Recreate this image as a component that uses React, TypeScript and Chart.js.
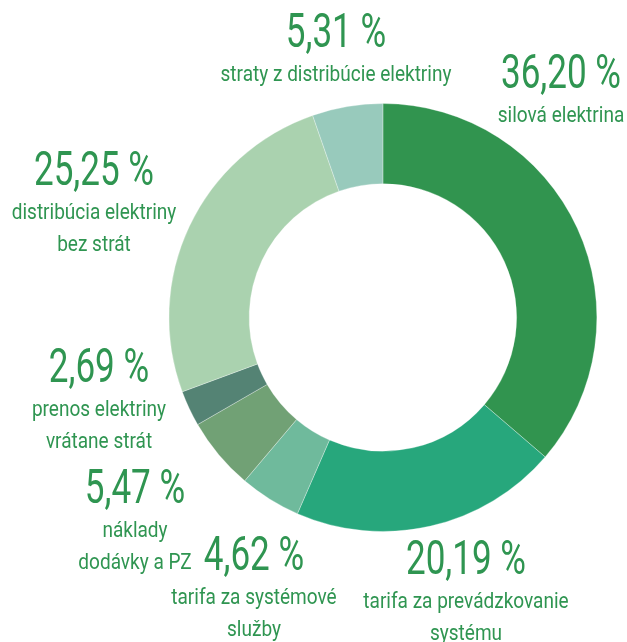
import React, { useEffect, useRef } from "react";
import { Chart, registerables } from "chart.js";

Chart.register(...registerables);

const categories: string[][] = [
  ["silová elektrina"],
  ["tarifa za prevádzkovanie", "systému"],
  ["tarifa za systémové", "služby"],
  ["náklady", "dodávky a PZ"],
  ["prenos elektriny", "vrátane strát"],
  ["distribúcia elektriny", "bez strát"],
  ["straty z distribúcie elektriny"],
];
const values: number[] = [36.2, 20.19, 4.62, 5.47, 2.69, 25.25, 5.31];
const colors: string[] = ["#31944f", "#27a77c", "#6fba9c", "#71a175", "#548374", "#aad2af", "#98cabc"];
// label anchor: center x, baseline of the percentage line
const labelX: number[] = [561, 466, 254, 135, 99, 94, 336];
const labelY: number[] = [88, 574, 570, 503, 382, 185, 47];

const TEXT_COLOR = "#2f9551";
const BIG_SIZE = 48;
const BIG_SCALE = 0.73;
const SMALL_SIZE = 22;
const SMALL_SCALE = 0.865;
const FIRST_LINE_GAP = 34;
const LINE_GAP = 32;

const fmt = (v: number) => v.toFixed(2).replace(".", ",") + " %";

const labelPlugin = {
  id: "sliceLabels",
  afterDraw(chart: any) {
    const ctx = chart.ctx as CanvasRenderingContext2D;
    ctx.save();
    ctx.fillStyle = TEXT_COLOR;
    ctx.textAlign = "center";
    ctx.textBaseline = "alphabetic";
    const draw = (t: string, x: number, y: number, size: number, sx: number, weight: string) => {
      ctx.save();
      ctx.font = `${weight} ${size}px Roboto, "DejaVu Sans", sans-serif`;
      ctx.translate(x, y);
      ctx.scale(sx, 1);
      ctx.fillText(t, 0, 0);
      ctx.restore();
    };
    values.forEach((v, i) => {
      const x = labelX[i];
      const y = labelY[i];
      draw(fmt(v), x, y, BIG_SIZE, BIG_SCALE, "400");
      categories[i].forEach((line, j) => {
        draw(line, x, y + FIRST_LINE_GAP + j * LINE_GAP, SMALL_SIZE, SMALL_SCALE, "400");
      });
    });
    ctx.restore();
  },
};

export default function App() {
  const ref = useRef<HTMLCanvasElement | null>(null);
  useEffect(() => {
    if (!ref.current) return;
    const chart = new Chart(ref.current, {
      type: "doughnut",
      data: {
        labels: categories.map((c) => c.join(" ")),
        datasets: [
          {
            data: values,
            backgroundColor: colors,
            borderColor: "rgba(255,255,255,0.6)",
            borderWidth: 0.5,
            hoverOffset: 0,
          },
        ],
      },
      options: {
        animation: false,
        responsive: true,
        maintainAspectRatio: false,
        cutout: "62.5%",
        events: [],
        layout: { padding: { left: 168.5, right: 29.7, top: 103.3, bottom: 110.3 } },
        plugins: { legend: { display: false }, tooltip: { enabled: false } },
      },
      plugins: [labelPlugin],
    });
    return () => chart.destroy();
  }, []);
  return (
    <div style={{ position: "fixed", left: 0, top: 0, width: 627, height: 642, background: "#fff" }}>
      <canvas ref={ref} />
    </div>
  );
}
